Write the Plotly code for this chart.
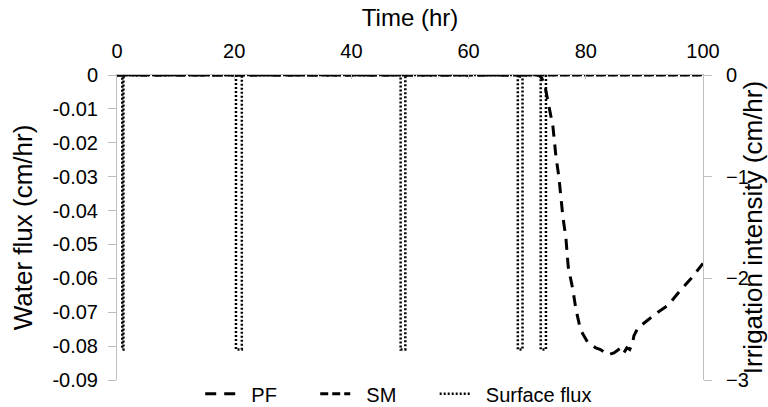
import plotly.graph_objects as go

# ---- data ----
pf_time = [0, 72.0, 72.5, 73.0, 73.5, 74.4, 74.9, 75.4, 76.1, 76.6, 77.0, 77.8, 78.3,
           79.1, 80.3, 81.7, 82.5, 83.8, 84.8, 85.5, 86.0, 86.5, 87.0, 87.5, 88.0,
           88.2, 88.9, 90.6, 92.3, 94.0, 96.2, 98.0, 99.1, 100]
pf_flux = [0, 0, -0.001, -0.003, -0.0074, -0.0153, -0.024, -0.030, -0.042, -0.048,
           -0.0566, -0.0634, -0.069, -0.0752, -0.0788, -0.0805, -0.081, -0.0826,
           -0.082, -0.081, -0.0805, -0.082, -0.0805, -0.081, -0.079, -0.077, -0.0746,
           -0.0723, -0.070, -0.068, -0.0634, -0.060, -0.0575, -0.0556]

sm_time = [0, 68.3, 68.8, 69.3, 100]
sm_flux = [0, 0, -0.0004, 0, 0]

# irrigation pulses (start, end) in hr, intensity in cm/hr
pulse_start = [0.9, 20.3, 48.4, 68.4, 72.3]
pulse_end = [1.1, 21.3, 49.2, 69.2, 73.2]
pulse_intensity = [-2.7, -2.7, -2.7, -2.7, -2.7]

x_ticks = [0, 20, 40, 60, 80, 100]
y_ticks = [0, -0.01, -0.02, -0.03, -0.04, -0.05, -0.06, -0.07, -0.08, -0.09]
y_tick_text = ["0", "-0.01", "-0.02", "-0.03", "-0.04", "-0.05", "-0.06", "-0.07", "-0.08", "-0.09"]
y2_ticks = [0, -1, -2, -3]

# build surface flux step series
sf_x, sf_y = [0], [0]
for s, e, v in zip(pulse_start, pulse_end, pulse_intensity):
    sf_x += [s, s, e, e]
    sf_y += [0, v, v, 0]
sf_x.append(100)
sf_y.append(0)

FONT = "Liberation Sans, Arial, sans-serif"
AX = "#bfbfbf"
NB = "\u00a0"

fig = go.Figure()
fig.add_trace(go.Scatter(x=sf_x, y=sf_y, name=NB * 2 + "Surface flux", mode="lines", yaxis="y2",
                         line=dict(color="black", width=2.5, dash="2px,2px")))
fig.add_trace(go.Scatter(x=sm_time, y=sm_flux, name=NB * 2 + "SM" + NB * 6, mode="lines",
                         line=dict(color="black", width=3, dash="8px,4px")))
fig.add_trace(go.Scatter(x=pf_time, y=pf_flux, name=NB * 2 + "PF" + NB * 6, mode="lines",
                         line=dict(color="black", width=3, dash="11px,8px")))

fig.update_layout(
    width=768, height=407,
    margin=dict(l=117, r=65, t=75, b=27, autoexpand=False),
    paper_bgcolor="white", plot_bgcolor="white",
    font=dict(family=FONT, size=20, color="black"),
    showlegend=True,
    legend=dict(orientation="h", x=0.142, xanchor="left", y=-0.045, yanchor="middle",
                font=dict(size=20), traceorder="reversed", bgcolor="rgba(0,0,0,0)"),
    xaxis=dict(side="top", range=[0, 100], tickvals=x_ticks, showline=True, linecolor=AX,
               linewidth=1, ticks="inside", ticklen=4, tickcolor=AX, showgrid=False,
               zeroline=False, automargin=False, ticklabelstandoff=8,
               title=dict(text="Time (hr)", font=dict(size=24), standoff=6)),
    yaxis=dict(range=[-0.09, 0], tickvals=y_ticks, ticktext=y_tick_text, showline=True,
               linecolor=AX, ticks="outside", ticklen=8, tickcolor=AX, showgrid=False,
               zeroline=False, ticklabelstandoff=6, automargin=False,
               title=dict(text="Water flux (cm/hr)", font=dict(size=26), standoff=12)),
    yaxis2=dict(range=[-3, 0], tickvals=y2_ticks, overlaying="y", side="right", showline=True,
                linecolor=AX, ticks="outside", ticklen=8, tickcolor=AX, showgrid=False,
                zeroline=False, ticklabelstandoff=10, automargin=False,
                title=dict(text="Irrigation intensity (cm/hr)", font=dict(size=26), standoff=2)),
)

fig.write_html("out.html", config={"displayModeBar": False},
               post_script="document.body.style.margin='0';")
